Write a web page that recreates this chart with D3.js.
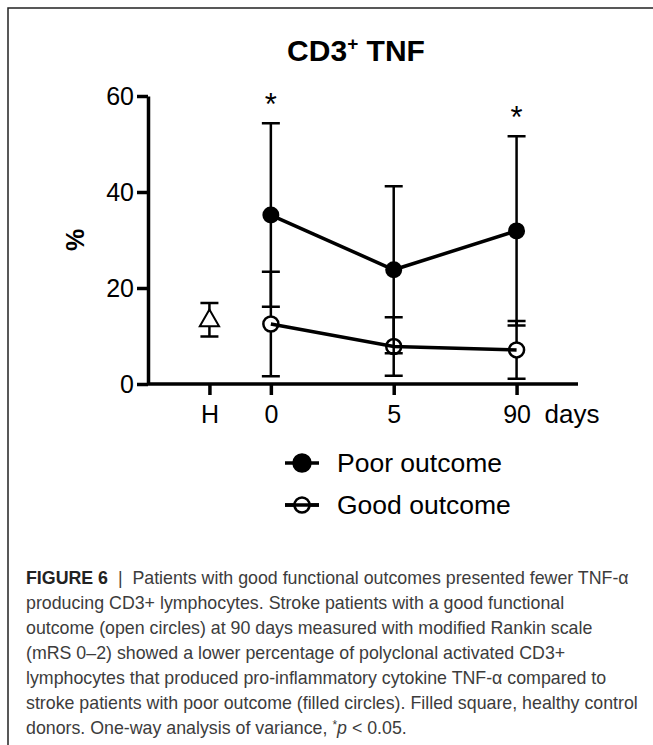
<!DOCTYPE html>
<html>
<head>
<meta charset="utf-8">
<script src="https://cdn.jsdelivr.net/npm/d3@7"></script>
<style>
	body { margin: 0; background: white; }
	svg { display: block; font-family: "Liberation Sans", Arial, sans-serif; }
</style>
</head>
<body>
<script>
// categories along the time axis and their slot on the index axis
var days = ['H', '0', '5', '90']
var slots = [-0.5, 0, 1, 2]

// healthy controls (mean, sd)
var healthyMean = 13.4
var healthySd = 3.5

// patients: mean and sd at days 0, 5, 90
var patientDays = ['0', '5', '90']
var poorMean = [35.2, 23.8, 31.9]
var poorSd = [19.1, 17.4, 19.7]
var goodMean = [12.5, 7.8, 7.1]
var goodSd = [10.9, 6.1, 6.0]

var starDays = ['0', '90']
var yTicks = [0, 20, 40, 60]

var caption = [
	'Patients with good functional outcomes presented fewer TNF-\u03b1',
	'producing CD3+ lymphocytes. Stroke patients with a good functional',
	'outcome (open circles) at 90 days measured with modified Rankin scale',
	'(mRS 0\u20132) showed a lower percentage of polyclonal activated CD3+',
	'lymphocytes that produced pro-inflammatory cytokine TNF-\u03b1 compared to',
	'stroke patients with poor outcome (filled circles). Filled square, healthy control',
	'donors. One-way analysis of variance, '
]

var width = 653,
	height = 745

var svg = d3.select('body').append('svg')
	.attr('width', width)
	.attr('height', height)

// frame (top and left edge only)
svg.append('path')
	.attr('d', 'M8,745V8H653')
	.attr('fill', 'none')
	.attr('stroke', '#222')
	.attr('stroke-width', 1.5)

var x = d3.scaleLinear()
	.domain([-1, 2.5])
	.range([148, 578])

var y = d3.scaleLinear()
	.domain([0, 60])
	.range([384, 96])

var slotOf = {}
days.forEach(function (d, i) { slotOf[d] = slots[i] })

var xd = d => x(slotOf[d])

// title
var title = svg.append('text')
	.attr('x', 356)
	.attr('y', 61)
	.attr('text-anchor', 'middle')
	.style('font-size', '30px')
	.style('font-weight', 'bold')
title.append('tspan').text('CD3')
title.append('tspan').text('+').attr('dy', -11).style('font-size', '19px')
title.append('tspan').text(' TNF').attr('dy', 11)

// axes
var yAxis = svg.append('g')
	.attr('transform', 'translate(' + x(-1) + ',0)')
	.call(d3.axisLeft(y).tickValues(yTicks).tickSize(11).tickSizeOuter(0).tickPadding(3))

var xAxis = svg.append('g')
	.attr('transform', 'translate(0,' + y(0) + ')')
	.call(d3.axisBottom(x).tickValues(slots).tickFormat((d, i) => days[i]).tickSize(11).tickSizeOuter(0).tickPadding(10))

;[yAxis, xAxis].forEach(function (g) {
	g.select('.domain').attr('stroke', 'black').attr('stroke-width', 3.5)
	g.selectAll('.tick line').attr('stroke', 'black').attr('stroke-width', 3.5)
	g.selectAll('.tick text')
		.attr('fill', 'black')
		.style('font-size', '25px')
		.style('font-family', '"Liberation Sans", Arial, sans-serif')
})
xAxis.select('.domain').attr('d', 'M' + x(-1) + ',0H' + x(2.5))

svg.append('text')
	.attr('x', x(2) + 28)
	.attr('y', y(0) + 39)
	.style('font-size', '26px')
	.text('days')

svg.append('text')
	.attr('transform', 'translate(84,' + y(30) + ') rotate(-90)')
	.attr('text-anchor', 'middle')
	.style('font-size', '25px')
	.style('font-weight', 'bold')
	.text('%')

function errorBars(g, keys, mean, sd, w) {
	var rows = keys.map((k, i) => ({ k: k, m: mean[i], s: sd[i] }))
	g.selectAll('.eb')
		.data(rows)
		.enter()
		.append('path')
			.attr('d', d => {
				var cx = xd(d.k), lo = y(d.m - d.s), hi = y(d.m + d.s)
				return 'M' + cx + ',' + lo + 'V' + hi +
					'M' + (cx - w) + ',' + hi + 'H' + (cx + w) +
					'M' + (cx - w) + ',' + lo + 'H' + (cx + w)
			})
			.attr('fill', 'none')
			.attr('stroke', 'black')
			.attr('stroke-width', 2.5)
}

var line = d3.line()
	.x((d, i) => xd(patientDays[i]))
	.y(d => y(d))

// healthy controls
var gH = svg.append('g')
errorBars(gH, ['H'], [healthyMean], [healthySd], 9)
var hx = xd('H'), hy = y(healthyMean)
gH.append('path')
	.attr('d', d3.symbol().type(d3.symbolTriangle).size(160)())
	.attr('transform', 'translate(' + hx + ',' + (hy + 1) + ')')
	.attr('fill', 'white')
	.attr('stroke', 'black')
	.attr('stroke-width', 2)

// good outcome
var gGood = svg.append('g')
errorBars(gGood, patientDays, goodMean, goodSd, 9)
gGood.selectAll('circle')
	.data(goodMean)
	.enter()
	.append('circle')
		.attr('cx', (d, i) => xd(patientDays[i]))
		.attr('cy', d => y(d))
		.attr('r', 7.5)
		.attr('fill', 'white')
		.attr('stroke', 'black')
		.attr('stroke-width', 2.5)
gGood.append('path')
	.datum(goodMean)
	.attr('d', line)
	.attr('fill', 'none')
	.attr('stroke', 'black')
	.attr('stroke-width', 3.5)

// poor outcome
var gPoor = svg.append('g')
errorBars(gPoor, patientDays, poorMean, poorSd, 9)
gPoor.append('path')
	.datum(poorMean)
	.attr('d', line)
	.attr('fill', 'none')
	.attr('stroke', 'black')
	.attr('stroke-width', 3.5)
gPoor.selectAll('circle')
	.data(poorMean)
	.enter()
	.append('circle')
		.attr('cx', (d, i) => xd(patientDays[i]))
		.attr('cy', d => y(d))
		.attr('r', 8.5)
		.attr('fill', 'black')

// significance stars above the upper error bar
svg.selectAll('.star')
	.data(starDays)
	.enter()
	.append('text')
		.attr('x', d => xd(d))
		.attr('y', d => {
			var i = patientDays.indexOf(d)
			return y(poorMean[i] + poorSd[i]) - 8
		})
		.attr('text-anchor', 'middle')
		.style('font-size', '31px')
		.text('*')

// legend
var legend = [
	{ label: 'Poor outcome', fill: 'black', r: 8.5 },
	{ label: 'Good outcome', fill: 'white', r: 7.5 }
]
var lg = svg.selectAll('.legend')
	.data(legend)
	.enter()
	.append('g')
		.attr('transform', (d, i) => 'translate(302,' + (463 + i * 42) + ')')
lg.append('path')
	.attr('d', 'M-17,0H17')
	.attr('stroke', 'black')
	.attr('stroke-width', 3.5)
lg.append('circle')
	.attr('r', d => d.r)
	.attr('fill', d => d.fill)
	.attr('stroke', 'black')
	.attr('stroke-width', 2.5)
lg.filter(d => d.fill == 'white').append('path')
	.attr('d', 'M-17,0H17')
	.attr('stroke', 'black')
	.attr('stroke-width', 3.5)
lg.append('text')
	.attr('x', 35)
	.attr('y', 9)
	.style('font-size', '26.5px')
	.text(d => d.label)

// caption
var cap = svg.append('g')
	.style('font-size', '17.8px')
	.attr('fill', '#3c3c3c')
cap.selectAll('text')
	.data(caption)
	.enter()
	.append('text')
		.attr('x', 26)
		.attr('y', (d, i) => 584 + i * 25)
		.each(function (d, i) {
			var t = d3.select(this)
			if (i == 0) {
				t.append('tspan').text('FIGURE 6').style('font-weight', 'bold').attr('fill', '#222')
				t.append('tspan').text('\u00a0\u00a0|\u00a0\u00a0')
			}
			t.append('tspan').text(d)
			if (i == caption.length - 1) {
				t.append('tspan').text('*').attr('dy', -5).style('font-size', '12px')
				t.append('tspan').text('p').attr('dy', 5).style('font-style', 'italic')
				t.append('tspan').text(' < 0.05.')
			}
		})
</script>
</body>
</html>
